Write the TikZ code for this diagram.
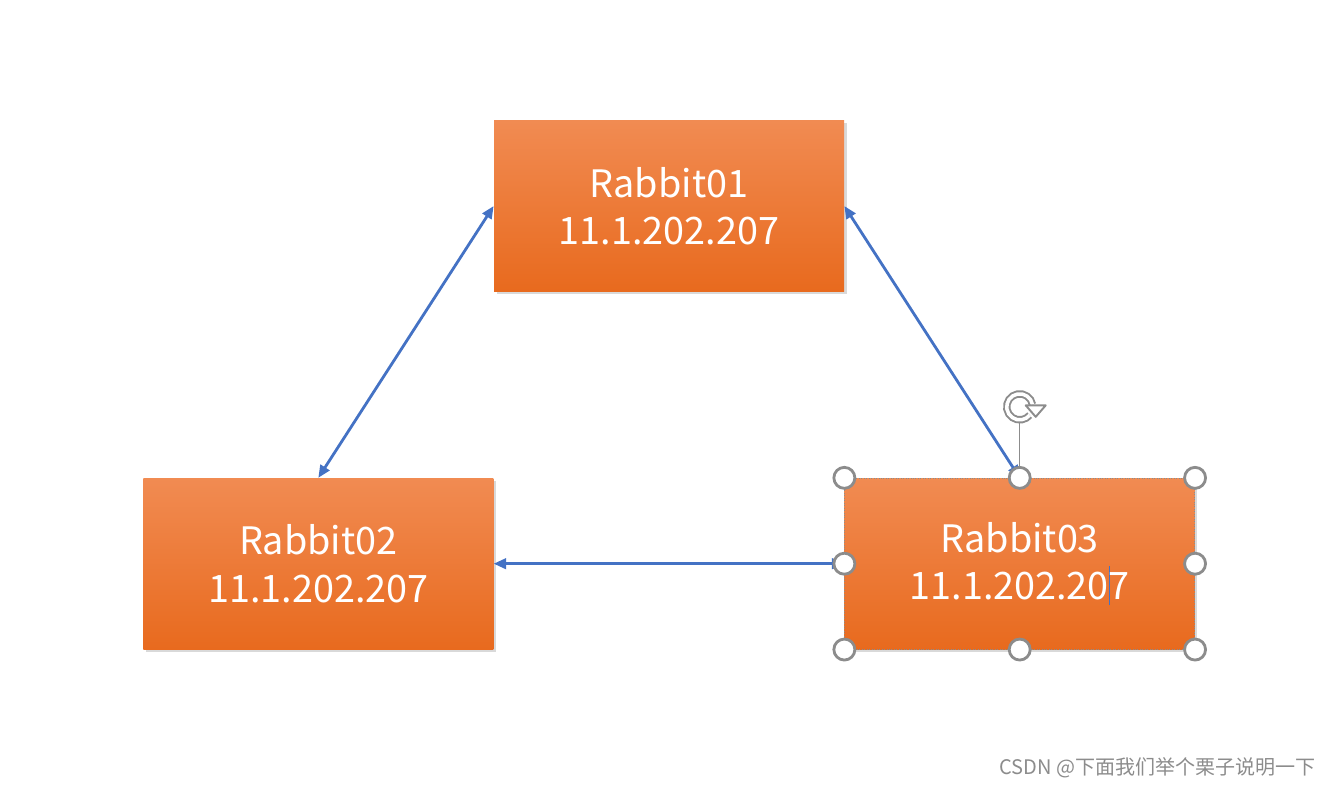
\documentclass[tikz,border=0pt]{standalone}
\usepackage{fontspec}
\newfontfamily\cjk{Noto Sans CJK SC}
\usepackage{tikz}
\usetikzlibrary{positioning,shadows,arrows.meta}
\definecolor{boxtop}{RGB}{241,139,82}
\definecolor{boxbottom}{RGB}{232,106,30}
\definecolor{linkblue}{RGB}{68,114,196}
\definecolor{handlegray}{RGB}{140,140,140}
\definecolor{markgray}{RGB}{140,140,140}

\begin{document}
\begin{tikzpicture}
[rabbitnode/.style={rectangle, top color=boxtop, bottom color=boxbottom, minimum width=7cm, minimum height=3.42cm, align=center, text=white, font=\cjk\fontsize{21.5}{27}\selectfont, drop shadow={shadow xshift=0.05cm, shadow yshift=-0.05cm, opacity=0.3}},
handlenode/.style={circle, draw=handlegray, fill=white, line width=1.6pt, minimum size=0.42cm, inner sep=0pt},
link/.style={{Triangle[length=2.5mm,width=2.1mm]}-{Triangle[length=2.5mm,width=2.1mm]}, draw=linkblue, line width=1.6pt},
]
\useasboundingbox (0,0) rectangle (26.76,15.72);
\node[rabbitnode]	(r1) at (13.38,11.6) {Rabbit01\\11.1.202.207};
\node[rabbitnode]	(r2) [below left=3.72cm and 0cm of r1] {Rabbit02\\11.1.202.207};
\node[rabbitnode, draw=handlegray, densely dotted]	(r3) [below right=3.72cm and 0cm of r1] {Rabbit03\\11.1.202.20\rlap{\textcolor{linkblue}{\rule[-0.15em]{0.8pt}{1.05em}}}7};

\draw[link] (r1.west) -- (r2.north);
\draw[link] (r1.east) -- (r3.north);
\draw[link] (r2.east) -- (r3.west);

% selection handles round Rabbit03
\coordinate (rot) at ([yshift=1.42cm]r3.north);
\draw[handlegray, line width=0.8pt] (r3.north) -- ([yshift=-0.3cm]rot);
\foreach \a/\n in {north west/nw, north/n, north east/ne, east/e, south east/se, south/s, south west/sw, west/w}
  \node[handlenode] (h\n) at (r3.\a) {};
\draw[handlegray, line width=1.1pt, double=white, double distance=2pt] ([shift={(10:0.26)}]rot) arc (10:320:0.26);
\draw[handlegray, line width=1.1pt, fill=white, line join=round] ([shift={(0.12,0.03)}]rot) -- ([shift={(0.52,0.03)}]rot) -- ([shift={(0.32,-0.2)}]rot) -- cycle;

\node[anchor=east, text=markgray, font=\cjk\fontsize{11.4}{13}\selectfont] (mark) at (26.44,0.36) {CSDN @下面我们举个栗子说明一下};
\end{tikzpicture}
\end{document}
